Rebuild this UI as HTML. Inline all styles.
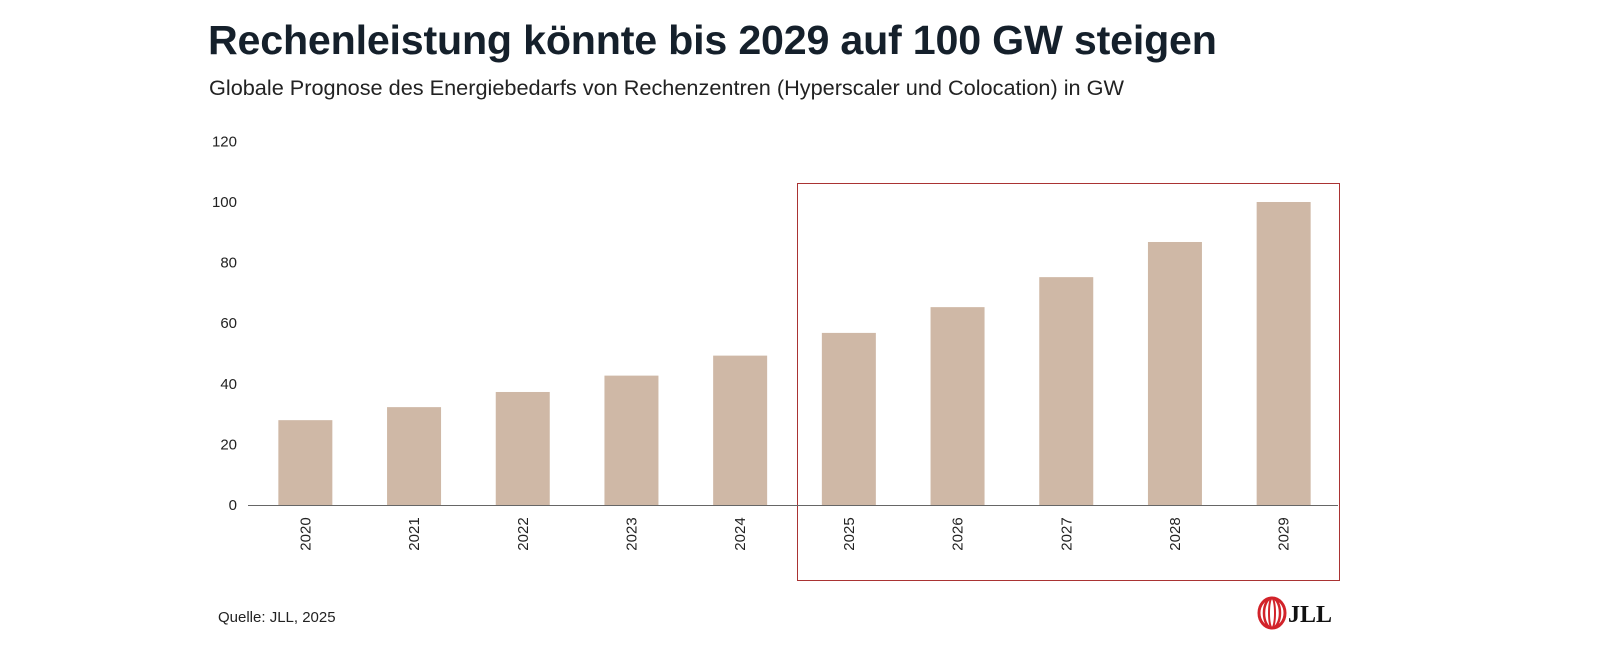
<!DOCTYPE html>
<html><head><meta charset="utf-8"><style>
body{margin:0;width:1600px;height:662px;background:#fff;font-family:"Liberation Sans",Arial,sans-serif;overflow:hidden;position:relative}
.title{position:absolute;left:208px;top:17px;font-size:41.2px;font-weight:bold;color:#15202b;letter-spacing:-0.2px}
.sub{position:absolute;left:209px;top:75px;font-size:21.7px;color:#222}
.src{position:absolute;left:218px;top:609px;font-size:15px;color:#222}
</style></head><body>
<div class="title">Rechenleistung könnte bis 2029 auf 100 GW steigen</div>
<div class="sub">Globale Prognose des Energiebedarfs von Rechenzentren (Hyperscaler und Colocation) in GW</div>
<div class="src">Quelle: JLL, 2025</div>
<svg id="chart" width="1600" height="662" style="position:absolute;left:0;top:0">
<rect x="797.5" y="183.5" width="542" height="397" fill="none" stroke="#a33" stroke-width="1"/>
<g>
<ellipse cx="1272" cy="613" rx="13" ry="15" fill="none" stroke="#d2232a" stroke-width="3"/>
<ellipse cx="1272" cy="613" rx="8" ry="15" fill="none" stroke="#d2232a" stroke-width="2.5"/>
<ellipse cx="1272" cy="613" rx="3" ry="15" fill="none" stroke="#d2232a" stroke-width="2"/>
<text x="1288" y="622" font-family="Liberation Serif,serif" font-weight="bold" font-size="24" fill="#111">JLL</text>
</g>
</svg>
<script>
const categories=["2020","2021","2022","2023","2024","2025","2026","2027","2028","2029"];
const values=[28,32.3,37.3,42.7,49.3,56.8,65.3,75.2,86.8,100];
const yTicks=[0,20,40,60,80,100,120];
const svg=document.getElementById('chart');
const NS='http://www.w3.org/2000/svg';
const x0=251,x1=1338,yBase=505,yTop=202,yMax=100;
const y=v=>yBase-(v/yMax)*(yBase-yTop);
const step=(x1-x0)/categories.length;
const xc=i=>x0+step*(i+0.5);
function mk(t,a){const e=document.createElementNS(NS,t);for(const k in a)e.setAttribute(k,a[k]);svg.appendChild(e);return e;}
yTicks.forEach(v=>{const t=mk('text',{x:237,y:y(v)+5,'text-anchor':'end','font-size':15,fill:'#222'});t.textContent=v;

});
values.forEach((v,i)=>{const r=mk('rect',{x:xc(i)-27,y:y(v),width:54,height:yBase-y(v),fill:'#cfb8a6'});


const t=mk('text',{transform:`translate(${xc(i)+5},${yBase+29}) rotate(-90)`,'text-anchor':'middle','font-size':15,fill:'#222'});t.textContent=categories[i];

});
const ax=mk('line',{x1:248,x2:x1,y1:yBase+0.5,y2:yBase+0.5,stroke:'#666','stroke-width':1});


</script>
</body></html>
